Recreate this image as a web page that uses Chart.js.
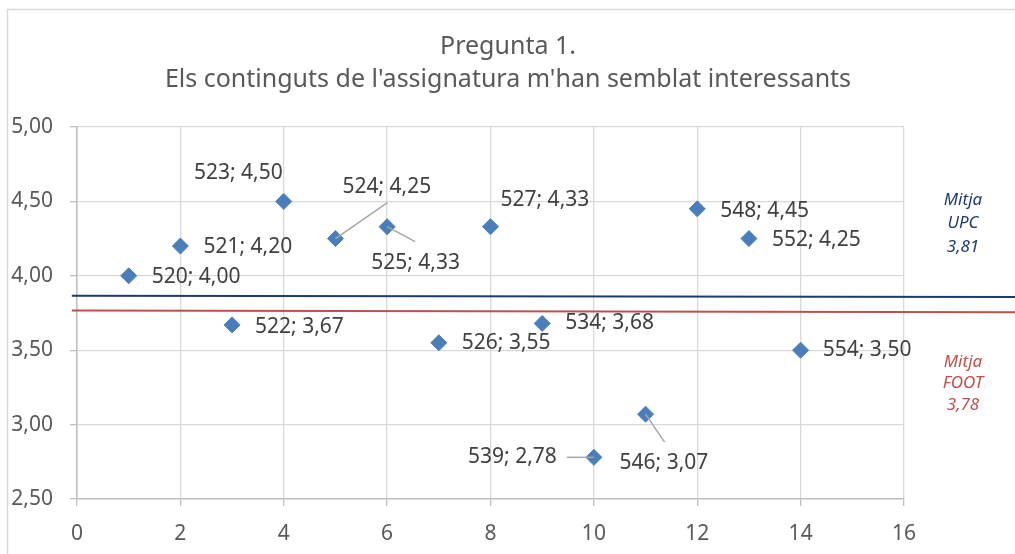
<!DOCTYPE html>
<html>
<head>
<meta charset="utf-8">
<script src="https://cdn.jsdelivr.net/npm/chart.js@4"></script>
<style>
  html, body { margin: 0; padding: 0; background: #fff; }
  #wrap { width: 1015px; height: 554px; position: relative; }
</style>
</head>
<body>
<div id="wrap"><canvas id="chart"></canvas></div>
<script>
// data
const codes = ['520', '521', '522', '523', '524', '525', '526', '527', '534', '539', '546', '548', '552', '554'];
const xValues = [1, 2, 3, 4, 5, 6, 7, 8, 9, 10, 11, 12, 13, 14];
const scores = [4.00, 4.20, 3.67, 4.50, 4.25, 4.33, 3.55, 4.33, 3.68, 2.78, 3.07, 4.45, 4.25, 3.50];

const titleLines = ['Pregunta 1.', "Els continguts de l'assignatura m'han semblat interessants"];

// mean lines (as drawn: start / end of each line)
const meanLineX = [-0.1, 18.3];
const upcLineY = [3.866, 3.857];
const footLineY = [3.767, 3.755];
const upcLabel = ['Mitja', 'UPC', '3,81'];
const footLabel = ['Mitja', 'FOOT', '3,78'];

const fmt = (v) => v.toFixed(2).replace('.', ',');

// label placement around each marker (pixels), leader = optional line end
const labelPlace = {
  '520': { dx: 23, dy: 1 },
  '521': { dx: 23, dy: 1 },
  '522': { dx: 23, dy: 2 },
  '523': { dx: -1, dy: -28, align: 'right' },
  '524': { dx: 7, dy: -52, leader: [52, -36] },
  '525': { dx: -16, dy: 36, leader: [28, 15] },
  '526': { dx: 23, dy: 0 },
  '527': { dx: 10, dy: -27 },
  '534': { dx: 23, dy: 0 },
  '539': { dx: -37, dy: 0, align: 'right', leader: [-27, 0] },
  '546': { dx: -26, dy: 49, leader: [19, 28] },
  '548': { dx: 23, dy: 2 },
  '552': { dx: 23, dy: 1 },
  '554': { dx: 22, dy: 0 },
};

const FONT = "'Noto Sans', sans-serif";

const pointLabels = {
  id: 'pointLabels',
  afterDatasetsDraw(chart) {
    const ctx = chart.ctx;
    const meta = chart.getDatasetMeta(0);
    ctx.save();
    ctx.font = '21px ' + FONT;
    ctx.textBaseline = 'middle';
    meta.data.forEach((pt, i) => {
      const p = labelPlace[codes[i]];
      if (p.leader) {
        ctx.strokeStyle = '#a6a6a6';
        ctx.lineWidth = 1.5;
        ctx.beginPath();
        ctx.moveTo(pt.x, pt.y);
        ctx.lineTo(pt.x + p.leader[0], pt.y + p.leader[1]);
        ctx.stroke();
      }
    });
    meta.data.forEach((pt, i) => {
      const p = labelPlace[codes[i]];
      ctx.fillStyle = '#404040';
      ctx.textAlign = p.align || 'left';
      ctx.fillText(codes[i] + '; ' + fmt(scores[i]), pt.x + p.dx, pt.y + p.dy);
    });
    ctx.restore();
  }
};

const extras = {
  id: 'extras',
  beforeDraw(chart) {
    const ctx = chart.ctx;
    ctx.save();
    // outer frame
    ctx.strokeStyle = '#d9d9d9';
    ctx.lineWidth = 1.5;
    ctx.beginPath();
    ctx.moveTo(7.5, chart.height);
    ctx.lineTo(7.5, 9.5);
    ctx.lineTo(chart.width, 9.5);
    ctx.stroke();
    // title, centred on the whole frame
    ctx.font = '25px ' + FONT;
    ctx.fillStyle = '#595959';
    ctx.textAlign = 'center';
    ctx.textBaseline = 'middle';
    titleLines.forEach((t, i) => ctx.fillText(t, 508, 47 + i * 33));
    ctx.restore();
  },
  afterDraw(chart) {
    const ctx = chart.ctx;
    const cx = chart.chartArea.right + 59;
    ctx.save();
    ctx.font = 'italic 17px ' + FONT;
    ctx.textAlign = 'center';
    ctx.textBaseline = 'middle';
    ctx.fillStyle = '#1f3a70';
    upcLabel.forEach((t, i) => ctx.fillText(t, cx, 200 + i * 23.5));
    ctx.fillStyle = '#c0504d';
    footLabel.forEach((t, i) => ctx.fillText(t, cx, 362 + i * 21.5));
    ctx.restore();
  }
};

new Chart(document.getElementById('chart'), {
  type: 'scatter',
  data: {
    datasets: [
      {
        label: 'Pregunta 1',
        data: xValues.map((x, i) => ({ x: x, y: scores[i] })),
        pointStyle: 'rectRot',
        pointRadius: 8,
        pointHoverRadius: 8,
        backgroundColor: '#4a7ebb',
        borderColor: '#4a7ebb',
        borderWidth: 1,
      },
      {
        type: 'line',
        label: 'Mitja UPC',
        data: meanLineX.map((x, i) => ({ x: x, y: upcLineY[i] })),
        borderColor: '#1f3a70',
        borderWidth: 2,
        pointRadius: 0,
        clip: false,
      },
      {
        type: 'line',
        label: 'Mitja FOOT',
        data: meanLineX.map((x, i) => ({ x: x, y: footLineY[i] })),
        borderColor: '#c0504d',
        borderWidth: 2,
        pointRadius: 0,
        clip: false,
      },
    ],
  },
  options: {
    responsive: true,
    maintainAspectRatio: false,
    animation: false,
    layout: { padding: { left: 0, right: 111, top: 127, bottom: 0 } },
    plugins: {
      legend: { display: false },
      tooltip: { enabled: false },
      title: { display: false },
    },
    scales: {
      x: {
        type: 'linear',
        min: 0,
        max: 16,
        ticks: { stepSize: 2, color: '#595959', font: { family: FONT, size: 21 }, padding: 15 },
        grid: { color: '#d9d9d9', lineWidth: 1.3, tickLength: 7, tickColor: '#bfbfbf' },
        border: { color: '#bfbfbf', width: 1.5 },
        afterFit(scale) { scale.height = 55; },
      },
      y: {
        min: 2.5,
        max: 5,
        ticks: {
          stepSize: 0.5,
          color: '#595959',
          font: { family: FONT, size: 21 },
          padding: 17,
          callback: (v) => fmt(v),
        },
        grid: { color: '#d9d9d9', lineWidth: 1.3, tickLength: 7, tickColor: '#bfbfbf' },
        border: { color: '#bfbfbf', width: 1.5 },
        afterFit(scale) { scale.width = 77; },
      },
    },
  },
  plugins: [pointLabels, extras],
});
</script>
</body>
</html>
